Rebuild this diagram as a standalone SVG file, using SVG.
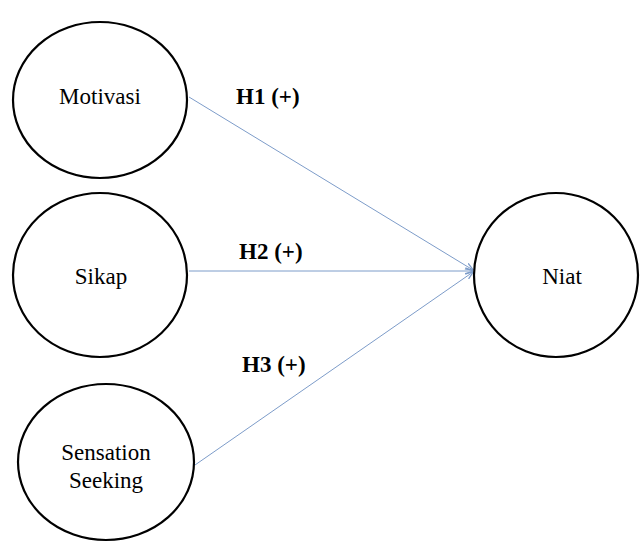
<svg xmlns="http://www.w3.org/2000/svg" width="640" height="543" viewBox="0 0 640 543">
<style>
.node{fill:#fff;stroke:#000;stroke-width:2.2}
.lbl{font-family:"Liberation Serif","Times New Roman",serif;font-size:23px;fill:#000;text-anchor:middle}
.hyp{font-family:"Liberation Serif","Times New Roman",serif;font-size:23px;font-weight:bold;fill:#000}
.edge{stroke:#7d9cc9;stroke-width:1;fill:none;marker-end:url(#arr)}
</style>
<defs>
<marker id="arr" viewBox="0 0 10 10" refX="9.5" refY="5" markerWidth="8" markerHeight="8" markerUnits="userSpaceOnUse" orient="auto">
<path d="M0,1 L10,5 L0,9" fill="none" stroke="#7d9cc9" stroke-width="1.6"/>
</marker>
</defs>
<rect width="640" height="543" fill="#fff"/>
<g id="connectors">
<line class="edge" x1="189" y1="97" x2="473" y2="270"/>
<line class="edge" x1="189" y1="271" x2="473" y2="271"/>
<line class="edge" x1="195" y1="465" x2="473" y2="272"/>
</g>
<g id="motivasi"><ellipse class="node" cx="100" cy="100" rx="87" ry="78"/><text class="lbl" x="100" y="104">Motivasi</text></g>
<g id="sikap"><ellipse class="node" cx="100" cy="275" rx="87" ry="82"/><text class="lbl" x="101" y="284">Sikap</text></g>
<g id="sensation"><ellipse class="node" cx="106" cy="462" rx="88" ry="78"/><text class="lbl" x="106" y="460">Sensation</text><text class="lbl" x="106" y="488">Seeking</text></g>
<g id="niat"><ellipse class="node" cx="556" cy="275" rx="82" ry="82"/><text class="lbl" x="562" y="284">Niat</text></g>
<g id="labels">
<text class="hyp" x="236" y="104">H1 (+)</text>
<text class="hyp" x="239" y="259">H2 (+)</text>
<text class="hyp" x="242" y="372">H3 (+)</text>
</g>
</svg>
